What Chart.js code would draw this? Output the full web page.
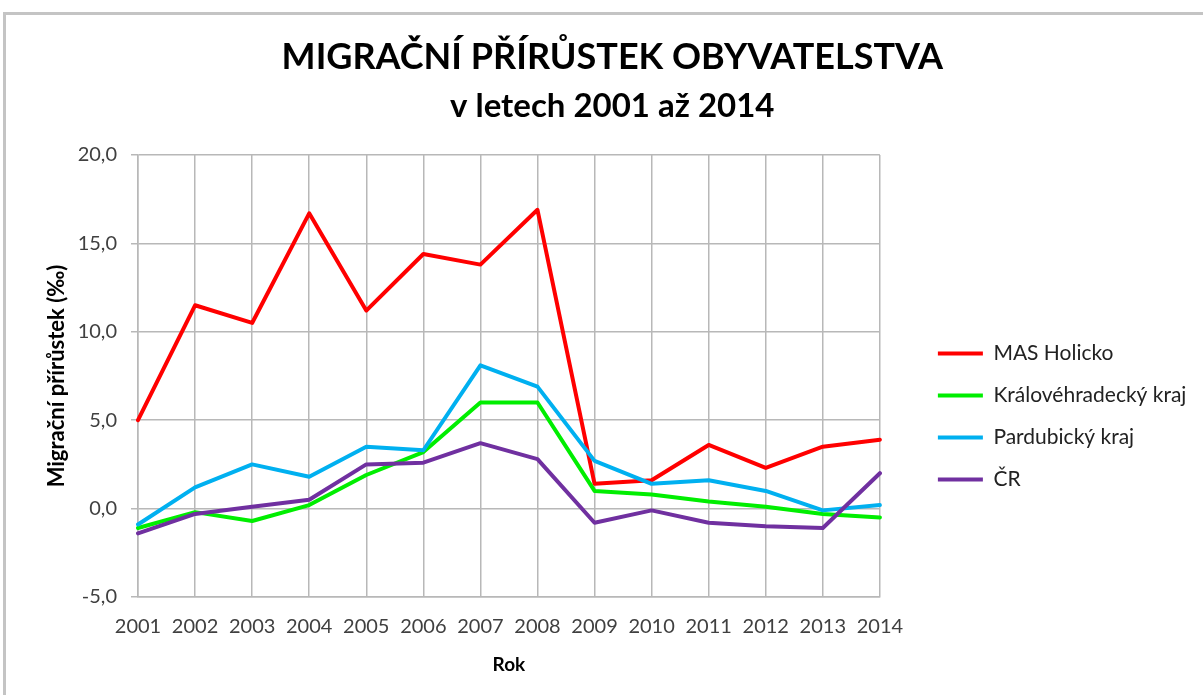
<!DOCTYPE html>
<html>
<head>
<meta charset="utf-8">
<script src="https://cdn.jsdelivr.net/npm/chart.js@4.4.1/dist/chart.umd.min.js"></script>
<style>
  html, body { margin: 0; padding: 0; background: #ffffff; overflow: hidden; }
  #frame { position: absolute; left: 3px; top: 12px; width: 1400px; height: 900px; border: 3px solid #c4c4c4; box-sizing: border-box; }
  #wrap { position: absolute; left: 0; top: 0; width: 1203px; height: 695px; }
</style>
</head>
<body>
<div id="frame"></div>
<div id="wrap"><canvas id="c" width="1203" height="695"></canvas></div>
<script>
const years = ['2001','2002','2003','2004','2005','2006','2007','2008','2009','2010','2011','2012','2013','2014'];
const masHolicko = [5.0, 11.5, 10.5, 16.7, 11.2, 14.4, 13.8, 16.9, 1.4, 1.6, 3.6, 2.3, 3.5, 3.9];
const kralovehradecky = [-1.1, -0.2, -0.7, 0.2, 1.9, 3.2, 6.0, 6.0, 1.0, 0.8, 0.4, 0.1, -0.3, -0.5];
const pardubicky = [-0.9, 1.2, 2.5, 1.8, 3.5, 3.3, 8.1, 6.9, 2.7, 1.4, 1.6, 1.0, -0.1, 0.2];
const cr = [-1.4, -0.3, 0.1, 0.5, 2.5, 2.6, 3.7, 2.8, -0.8, -0.1, -0.8, -1.0, -1.1, 2.0];
const seriesNames = ['MAS Holicko', 'Královéhradecký kraj', 'Pardubický kraj', 'ČR'];
const seriesColors = ['#ff0000', '#00ee00', '#00b0f0', '#7030a0'];
const titleText = 'MIGRAČNÍ PŘÍRŮSTEK OBYVATELSTVA';
const subtitleText = 'v letech 2001 až 2014';
const yTitle = 'Migrační přírůstek (‰)';
const xTitle = 'Rok';

const FONT = 'Lato, "Open Sans", sans-serif';
const seriesData = [masHolicko, kralovehradecky, pardubicky, cr];
const datasets = seriesData.map((d, i) => ({
  label: seriesNames[i],
  data: d,
  borderColor: seriesColors[i],
  backgroundColor: seriesColors[i],
  borderWidth: 4,
  pointRadius: 0,
  pointHoverRadius: 0,
  pointStyle: 'line',
  tension: 0,
  borderJoinStyle: 'round',
  borderCapStyle: 'round',
  order: seriesData.length - 1 - i
}));

const PAD_LEFT = 44;
const TARGET = { left: 138, right: 879, top: 155, bottom: 597 };
const boxShift = {
  id: 'boxShift',
  afterLayout(chart) {
    const lg = chart.legend;
    if (lg) {
      const dx = 37, dy = 322;
      lg.left += dx; lg.right += dx;
      lg.top += dy; lg.bottom += dy;
    }
    // centre title + subtitle like the reference
    chart.boxes.forEach(b => {
      if (b.position === 'top' && b !== lg) { b.left += 11; b.right += 11; }
    });
  }
};

const gridColor = '#b8b8b8';
const chart = new Chart(document.getElementById('c'), {
  type: 'line',
  data: { labels: years, datasets },
  plugins: [boxShift],
  options: {
    responsive: false,
    animation: false,
    devicePixelRatio: 1,
    layout: { padding: { left: PAD_LEFT, right: 10, top: 0, bottom: 22 } },
    plugins: {
      title: {
        display: true,
        text: titleText,
        color: '#000000',
        font: { family: FONT, size: 36, weight: 'bold', lineHeight: 1.2 },
        padding: { top: 36, bottom: 0 }
      },
      subtitle: {
        display: true,
        text: subtitleText,
        color: '#000000',
        font: { family: FONT, size: 33, weight: 'bold', lineHeight: 1.2 },
        padding: { top: 7, bottom: 33 }
      },
      legend: {
        position: 'right',
        align: 'start',
        labels: {
          usePointStyle: true,
          pointStyleWidth: 45,
          boxHeight: 4,
          padding: 21,
          color: '#222222',
          font: { family: FONT, size: 21 },
          sort: (a, b) => a.datasetIndex - b.datasetIndex
        }
      },
      tooltip: { enabled: false }
    },
    scales: {
      x: {
        offset: false,
        grid: { color: gridColor, lineWidth: 1.5, drawTicks: false },
        border: { display: true, color: gridColor, width: 1.5 },
        ticks: { color: '#404040', font: { family: FONT, size: 20 }, padding: 18, maxRotation: 0, autoSkip: false },
        title: { display: true, text: xTitle, color: '#000000', font: { family: FONT, size: 19, weight: 'bold', lineHeight: 1.2 }, padding: { top: -4, bottom: 0 } }
      },
      y: {
        min: -5,
        max: 20,
        grid: { color: gridColor, lineWidth: 1.5, drawTicks: true, tickLength: 7 },
        border: { display: true, color: gridColor, width: 1.5 },
        ticks: {
          stepSize: 5,
          color: '#404040',
          font: { family: FONT, size: 20 },
          padding: 14,
          callback: (v) => Number(v).toFixed(1).replace('.', ',')
        },
        title: { display: true, text: yTitle, color: '#000000', font: { family: FONT, size: 22, weight: 'bold', lineHeight: 1.2 }, padding: { top: 0, bottom: 0 } },
        afterFit(scale) { scale.width = TARGET.left - PAD_LEFT; }
      }
    }
  }
});

// one correction pass so the plot area sits where the reference has it
const ca = chart.chartArea;
chart.options.layout.padding.right += ca.right - TARGET.right;
chart.options.layout.padding.bottom += ca.bottom - TARGET.bottom;
chart.options.plugins.subtitle.padding.bottom += TARGET.top - ca.top;
chart.update('none');
</script>
</body>
</html>
